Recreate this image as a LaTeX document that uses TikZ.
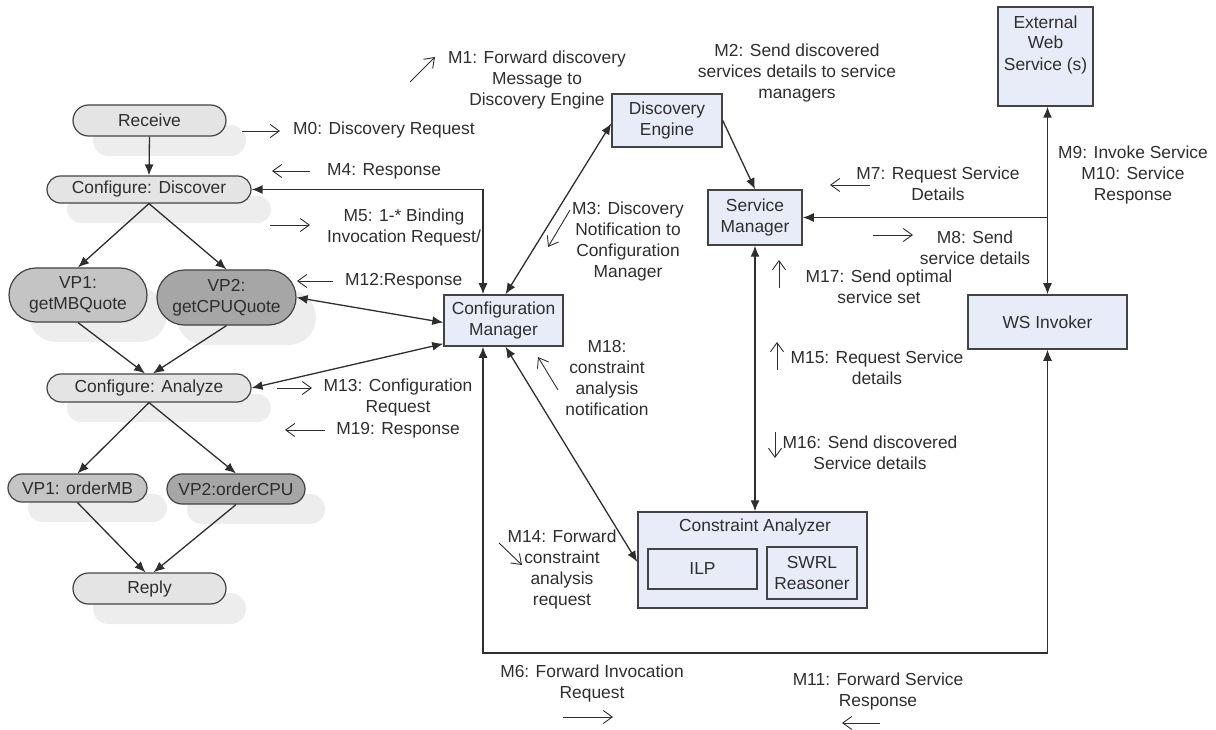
\documentclass[tikz,border=0pt]{standalone}
\usepackage{fontspec}
\setmainfont{Liberation Sans}
\usetikzlibrary{arrows.meta,shapes.misc,shadows,calc}
\definecolor{boxblue}{HTML}{E8ECF8}
\definecolor{lightact}{HTML}{E4E4E4}
\definecolor{midact}{HTML}{C4C4C4}
\definecolor{darkact}{HTML}{A6A6A6}
\definecolor{ink}{HTML}{2E2E2E}
\tikzset{
  txt/.style={font=\fontsize{17.4}{21}\selectfont, text=ink, align=center, inner sep=0pt},
  act/.style={rounded rectangle, draw=ink!90, line width=1.2pt, txt,
    drop shadow={shadow xshift=20pt, shadow yshift=-20pt, fill=black!7, opacity=1}},
  box/.style={draw=ink!90, line width=1.5pt, fill=boxblue, txt},
  conn/.style={line width=1.3pt, draw=ink, -{Latex[length=11pt,width=9pt]}},
  bi/.style={line width=1.3pt, draw=ink, {Latex[length=11pt,width=9pt]}-{Latex[length=11pt,width=9pt]}},
  msg/.style={line width=0.9pt, draw=ink, -{Straight Barb[length=9pt,width=13pt]}}
}
\begin{document}
\begin{tikzpicture}[x=1pt,y=-1pt]
\useasboundingbox (0,0) rectangle (1216,730);

% left activity flow
\node[act, fill=lightact, minimum width=153pt, minimum height=31pt] (rec) at (149.5,120.5) {Receive};
\node[act, fill=lightact, minimum width=204pt, minimum height=27pt] (cd) at (149,189.5) {Configure: Discover};
\node[act, fill=midact, minimum width=138pt, minimum height=54pt] (vp1) at (78,295) {VP1:\\getMBQuote};
\node[act, fill=darkact, minimum width=139pt, minimum height=55pt] (vp2) at (226.5,297.5) {VP2:\\getCPUQuote};
\node[act, fill=lightact, minimum width=204pt, minimum height=28pt] (an) at (149,388) {Configure: Analyze};
\node[act, fill=midact, minimum width=139pt, minimum height=28pt] (om) at (77.5,488) {VP1: orderMB};
\node[act, fill=darkact, minimum width=138pt, minimum height=30pt] (oc) at (236,489) {VP2:orderCPU};
\node[act, fill=lightact, minimum width=153pt, minimum height=31pt] (rep) at (149.5,588.5) {Reply};

% right components
\node[box, minimum width=110pt, minimum height=53pt] (de) at (667,120.5) {Discovery\\Engine};
\node[box, minimum width=94pt, minimum height=55pt] (sm) at (755,217.5) {Service\\Manager};
\node[box, minimum width=119pt, minimum height=51pt] (cm) at (503.5,320.5) {Configuration\\Manager};
\node[box, minimum width=95pt, minimum height=99pt] (ews) at (1045.5,56.5) {};
\node[txt] (ewst) at (1045.5,44.5) {External\\Web\\Service (s)};
\node[box, minimum width=159pt, minimum height=54pt] (wsi) at (1047.5,322) {WS Invoker};
\node[box, minimum width=229pt, minimum height=96pt] (ca) at (752.5,560) {};
\node[txt] (cat) at (755,527) {Constraint Analyzer};
\node[box, minimum width=109pt, minimum height=40pt] (ilp) at (702.5,569) {ILP};
\node[box, minimum width=90pt, minimum height=52pt] (swrl) at (812,573) {SWRL\\Reasoner};

% flow connectors
\draw[conn] (rec.south) -- (cd.north);
\draw[conn] (cd.south) -- (vp1.north);
\draw[conn] (cd.south) -- (vp2.north);
\draw[conn] (vp1.south) -- ([xshift=-4pt]an.north);
\draw[conn] (vp2.south) -- ([xshift=4pt]an.north);
\draw[conn] (an.south) -- (om.north);
\draw[conn] (an.south) -- (oc.north);
\draw[conn] (om.south) -- ([xshift=-4pt]rep.north);
\draw[conn] (oc.south) -- ([xshift=4pt]rep.north);

% component connectors
\draw[bi] (cd.east) -| ([xshift=-20.5pt]cm.north);
\draw[bi] (vp2.east) -- ([yshift=-2pt]cm.west);
\draw[bi] (an.east) -- ([yshift=3pt]cm.south west);
\draw[bi] ([xshift=2pt]cm.north) -- ([yshift=-3pt]de.west);
\draw[conn] (de.east) -- (sm.north);
\draw[bi] (ews.south -| wsi.north) -- (wsi.north);
\draw[conn] (sm.east -| wsi.north) -- (sm.east);
\draw[bi] (sm.south) -- (sm.south |- ca.north);
\draw[bi] ([xshift=2pt]cm.south) -- ([yshift=-2pt]ca.west);
\coordinate (lowy) at (0,653);
\draw[bi] ([xshift=-20.5pt]cm.south) -- ([xshift=-20.5pt]cm.south |- lowy) -| (wsi.south);

% message labels
\node[txt, anchor=west] (m0) at (293,130) {M0: Discovery Request};
\draw[msg] (242,131) coordinate (m0a) -- ++(38,0);
\node[txt, anchor=west] (m4) at (327,171) {M4: Response};
\draw[msg] (310,171) coordinate (m4a) -- ++(-38,0);
\node[txt] (m5) at (404,228) {M5: 1-* Binding\\Invocation Request/};
\draw[msg] (270,225) coordinate (m5a) -- ++(40,0);
\node[txt, anchor=west] (m12) at (345,281) {M12:Response};
\draw[msg] (333,281) coordinate (m12a) -- ++(-36,0);
\node[txt] (m13) at (398,398) {M13: Configuration\\Request};
\draw[msg] (277,388) coordinate (m13a) -- ++(35,0);
\node[txt] (m19) at (398,430) {M19: Response};
\draw[msg] (325,430) coordinate (m19a) -- ++(-40,0);
\node[txt] (m1) at (537,80) {M1: Forward discovery\\Message to\\Discovery Engine};
\draw[msg] (410,82) coordinate (m1a) -- ++(25,-25);
\node[txt] (m2) at (797,73) {M2: Send discovered\\services details to service\\managers};
\node[txt] (m3) at (628,241.5) {M3: Discovery\\Notification to\\Configuration\\Manager};
\draw[msg] (570,210) coordinate (m3a) -- ++(-22,37);
\node[txt] (m7) at (938,184) {M7: Request Service\\Details};
\draw[msg] (870,185) coordinate (m7a) -- ++(-40,0);
\node[txt] (m8) at (975,247.5) {M8: Send\\service details};
\draw[msg] (873,235) coordinate (m8a) -- ++(40,0);
\node[txt] (m17) at (879,287) {M17: Send optimal\\service set};
\draw[msg] (779,288) coordinate (m17a) -- ++(0,-28);
\node[txt] (m9) at (1133,175) {M9: Invoke Service\\M10: Service\\Response};
\node[txt] (m15) at (877,367.5) {M15: Request Service\\details};
\draw[msg] (777,370) coordinate (m15a) -- ++(0,-28);
\node[txt] (m16) at (870,452.5) {M16: Send discovered\\Service details};
\draw[msg] (775,432) coordinate (m16a) -- ++(0,26);
\node[txt] (m18) at (607,378.5) {M18:\\constraint\\analysis\\notification};
\draw[msg] (558,390) coordinate (m18a) -- ++(-20,-33);
\node[txt] (m14) at (562,569.5) {M14: Forward\\constraint\\analysis\\request};
\draw[msg] (499,543) coordinate (m14a) -- ++(23,22);
\node[txt] (m6) at (592,683.5) {M6: Forward Invocation\\Request};
\draw[msg] (563,717) coordinate (m6a) -- ++(50,0);
\node[txt] (m11) at (878,691) {M11: Forward Service\\Response};
\draw[msg] (880,723) coordinate (m11a) -- ++(-38,0);
\end{tikzpicture}
\end{document}
